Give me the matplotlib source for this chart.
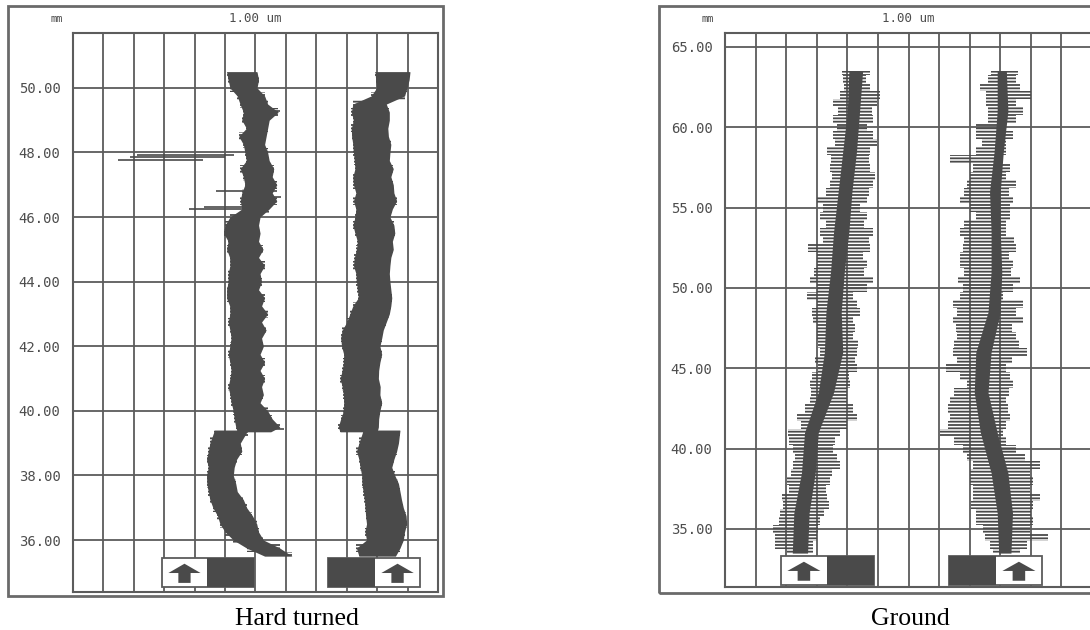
import numpy as np
import matplotlib.pyplot as plt
from matplotlib.patches import Rectangle, Polygon
from matplotlib import transforms

plt.rcParams['hatch.color'] = '#4a4a4a'
plt.rcParams['hatch.linewidth'] = 1.3

# ---------------- Hard turned (left) : position along profile (mm), trace extent (um)
# upper section of the profile (50.5 mm down to the step near 39.35 mm)
ht_pos_up = [50.50, 50.25, 50.00, 49.75, 49.50, 49.25, 49.00, 48.75, 48.50, 48.25,
             48.00, 47.75, 47.50, 47.25, 47.00, 46.75, 46.50, 46.25, 46.00, 45.75,
             45.50, 45.25, 45.00, 44.75, 44.50, 44.25, 44.00, 43.75, 43.50, 43.25,
             43.00, 42.75, 42.50, 42.25, 42.00, 41.75, 41.50, 41.25, 41.00, 40.75,
             40.50, 40.25, 40.00, 39.75, 39.50, 39.35]
# lower section
ht_pos_dn = [39.40, 39.00, 38.75, 38.50, 38.25, 38.00, 37.75, 37.50, 37.25, 37.00,
             36.75, 36.50, 36.25, 36.00, 35.75, 35.50]

a_up_lo = [5.05, 5.10, 5.16, 5.40, 5.49, 5.60, 5.55, 5.70, 5.45, 5.60,
           5.65, 5.70, 5.50, 5.60, 5.65, 5.55, 5.50, 5.55, 5.16, 5.00,
           4.95, 5.10, 5.05, 5.15, 5.16, 5.10, 5.10, 5.05, 5.05, 5.15,
           5.16, 5.10, 5.16, 5.20, 5.16, 5.10, 5.16, 5.20, 5.16, 5.10,
           5.16, 5.20, 5.27, 5.30, 5.35, 5.40]
a_up_hi = [6.05, 6.10, 6.05, 6.30, 6.40, 6.75, 6.45, 6.40, 6.35, 6.30,
           6.40, 6.45, 6.60, 6.55, 6.70, 6.55, 6.70, 6.45, 6.15, 6.10,
           6.15, 6.10, 6.25, 6.10, 6.30, 6.15, 6.20, 6.10, 6.30, 6.20,
           6.40, 6.20, 6.35, 6.20, 6.26, 6.15, 6.30, 6.15, 6.30, 6.20,
           6.26, 6.15, 6.40, 6.55, 6.80, 6.50]
a_dn_lo = [4.65, 4.50, 4.45, 4.39, 4.45, 4.39, 4.40, 4.45, 4.50, 4.60,
           4.75, 4.83, 5.00, 5.27, 5.71, 6.30]
a_dn_hi = [5.75, 5.50, 5.55, 5.38, 5.30, 5.27, 5.35, 5.40, 5.60, 5.71,
           5.90, 6.04, 6.10, 6.26, 6.80, 7.20]

b_up_lo = [9.93, 9.95, 9.98, 9.80, 9.20, 9.15, 9.22, 9.15, 9.16, 9.20,
           9.22, 9.25, 9.27, 9.20, 9.22, 9.30, 9.22, 9.30, 9.27, 9.20,
           9.27, 9.35, 9.32, 9.25, 9.22, 9.30, 9.32, 9.35, 9.38, 9.20,
           9.10, 9.00, 8.85, 8.80, 8.83, 8.90, 8.89, 8.85, 8.78, 8.85,
           8.89, 8.90, 8.89, 8.80, 8.72, 8.78]
b_up_hi = [11.08, 11.05, 10.98, 10.90, 10.30, 10.40, 10.40, 10.35, 10.37, 10.45,
           10.42, 10.40, 10.53, 10.45, 10.53, 10.55, 10.64, 10.50, 10.42, 10.55,
           10.58, 10.50, 10.53, 10.45, 10.42, 10.40, 10.42, 10.45, 10.48, 10.45,
           10.40, 10.30, 10.20, 10.15, 10.09, 10.15, 10.09, 10.05, 10.04, 10.10,
           10.09, 10.15, 10.09, 10.05, 10.04, 10.00]
b_dn_lo = [9.54, 9.40, 9.32, 9.40, 9.44, 9.49, 9.50, 9.54, 9.58, 9.60,
           9.62, 9.65, 9.60, 9.65, 9.32, 9.40]
b_dn_hi = [10.75, 10.70, 10.64, 10.55, 10.48, 10.58, 10.70, 10.75, 10.80, 10.86,
           10.95, 10.97, 10.90, 10.86, 10.75, 10.60]

# isolated long spikes of the hard turned trace
a_spk_y = [47.92, 47.85, 47.78, 46.82, 46.30, 46.24, 49.30, 46.62, 39.45]
a_spk_lo = [2.10, 1.87, 1.48, 4.70, 4.30, 3.82, 6.00, 6.20, 6.20]
a_spk_hi = [5.30, 5.00, 4.28, 6.70, 6.00, 6.00, 6.80, 6.85, 6.95]

# ---------------- Ground (right)
gr_pos = [63.5, 63.0, 62.5, 62.0, 61.5, 61.0, 60.5, 60.0, 59.5, 59.0,
          58.5, 58.0, 57.5, 57.0, 56.5, 56.0, 55.5, 55.0, 54.5, 54.0,
          53.5, 53.0, 52.5, 52.0, 51.5, 51.0, 50.5, 50.0, 49.5, 49.0,
          48.5, 48.0, 47.5, 47.0, 46.5, 46.0, 45.5, 45.0, 44.5, 44.0,
          43.5, 43.0, 42.5, 42.0, 41.5, 41.0, 40.5, 40.0, 39.5, 39.0,
          38.5, 38.0, 37.5, 37.0, 36.5, 36.0, 35.5, 35.0, 34.5, 34.0,
          33.5]
c_lo = [3.81, 3.85, 3.90, 3.75, 3.54, 3.70, 3.54, 3.65, 3.54, 3.60,
        3.32, 3.45, 3.43, 3.50, 3.43, 3.30, 3.00, 3.21, 3.10, 3.30,
        3.10, 3.20, 2.72, 3.00, 3.00, 2.90, 2.78, 3.00, 2.67, 3.00,
        2.85, 2.89, 3.00, 3.00, 3.05, 3.10, 2.95, 3.05, 2.85, 2.78,
        2.80, 2.78, 2.60, 2.34, 2.50, 2.07, 2.10, 2.23, 2.30, 2.23,
        2.15, 2.02, 2.10, 1.85, 1.90, 1.80, 1.75, 1.58, 1.65, 1.63,
        2.02]
c_hi = [4.74, 4.60, 4.74, 5.07, 4.96, 4.80, 4.85, 4.63, 4.85, 4.96,
        4.74, 4.70, 4.74, 4.90, 4.85, 4.70, 4.63, 4.41, 4.63, 4.55,
        4.85, 4.70, 4.74, 4.50, 4.63, 4.55, 4.85, 4.63, 4.19, 4.30,
        4.40, 4.19, 4.25, 4.19, 4.35, 4.30, 4.25, 4.30, 4.05, 4.08,
        4.00, 3.98, 4.20, 4.30, 4.00, 3.76, 3.60, 3.54, 3.65, 3.76,
        3.50, 3.43, 3.30, 3.32, 3.40, 3.25, 3.10, 3.05, 3.00, 2.89,
        2.89]
d_lo = [8.71, 8.60, 8.33, 8.55, 8.55, 8.60, 8.61, 8.22, 8.22, 8.40,
        8.22, 7.35, 8.12, 8.00, 7.90, 7.80, 7.68, 8.01, 8.22, 7.80,
        7.68, 7.80, 7.79, 7.70, 7.68, 7.80, 7.63, 7.79, 7.68, 7.46,
        7.60, 7.46, 7.55, 7.57, 7.50, 7.46, 7.60, 7.24, 7.70, 7.90,
        7.50, 7.35, 7.30, 7.35, 7.30, 7.03, 7.50, 7.79, 7.90, 8.12,
        8.00, 8.01, 8.10, 8.12, 8.05, 8.22, 8.20, 8.44, 8.50, 8.66,
        8.77]
d_hi = [9.59, 9.50, 9.64, 10.02, 9.53, 9.75, 9.53, 9.15, 9.42, 9.20,
        9.20, 9.10, 9.31, 9.20, 9.53, 9.30, 9.42, 9.31, 9.31, 9.20,
        9.20, 9.45, 9.53, 9.30, 9.42, 9.35, 9.64, 9.42, 9.10, 9.75,
        9.50, 9.75, 9.40, 9.53, 9.60, 9.86, 9.40, 9.20, 9.31, 9.42,
        9.30, 9.20, 9.25, 9.31, 9.20, 9.10, 9.20, 9.53, 9.80, 10.29,
        9.97, 10.08, 9.97, 10.29, 10.08, 10.00, 10.08, 9.97, 10.57, 9.86,
        9.64]
# dense centre of the ground traces
core_pos = [63.5, 61.0, 58.5, 56.0, 53.5, 51.0, 48.5, 46.0, 43.5, 41.0, 38.5, 36.0, 33.5]
c_core_lo = [4.05, 4.00, 3.85, 3.70, 3.55, 3.45, 3.30, 3.25, 3.05, 2.60, 2.50, 2.25, 2.20]
c_core_hi = [4.50, 4.40, 4.30, 4.15, 4.05, 3.90, 3.80, 3.85, 3.55, 3.05, 2.95, 2.75, 2.70]
d_core_lo = [8.90, 8.90, 8.80, 8.65, 8.70, 8.70, 8.60, 8.20, 8.15, 8.35, 8.70, 8.90, 8.95]
d_core_hi = [9.20, 9.25, 9.10, 9.00, 9.00, 9.05, 9.00, 8.70, 8.60, 8.90, 9.25, 9.40, 9.35]

ht_ticks = [36, 38, 40, 42, 44, 46, 48, 50]
gr_ticks = [35, 40, 45, 50, 55, 60, 65]

INK = '#4a4a4a'
GRID = '#5c5c5c'
LABEL = '#4d4d4d'

fig = plt.figure(figsize=(10.9, 6.3), dpi=100)
W, H = 1090.0, 630.0


def px_axes(x0, y0, x1, y1):
    # pixel box (top-left origin) -> axes
    return fig.add_axes([x0 / W, (H - y1) / H, (x1 - x0) / W, (y1 - y0) / H])


def setup(ax, ylim, ticks):
    ax.set_xlim(0, 12)
    ax.set_ylim(*ylim)
    ax.set_xticks(range(13))
    ax.set_xticklabels([])
    ax.set_yticks(ticks)
    ax.set_yticklabels(['%.2f' % t for t in ticks], family='DejaVu Sans Mono',
                       fontsize=10, color=LABEL)
    ax.tick_params(length=0, pad=9)
    ax.grid(True, color=GRID, lw=1.3)
    ax.set_axisbelow(True)
    for s in ax.spines.values():
        s.set_color(GRID)
        s.set_linewidth(1.5)


def trace(ax, pos, lo, hi, solid=True):
    # solid body joined point to point, horizontal strokes out to the read extent
    if solid:
        ax.fill_betweenx(pos, lo, hi, color=INK, lw=0, zorder=3)
    ax.fill_betweenx(pos, lo, hi, step='mid', facecolor='none', edgecolor=INK,
                     hatch='-----', lw=0, zorder=3)


def dir_box(ax, x0, x1, xs, yb, yt, dark_left):
    tr = transforms.blended_transform_factory(ax.transData, ax.transAxes)
    ax.add_patch(Rectangle((x0, yb), x1 - x0, yt - yb, transform=tr, facecolor='white',
                           edgecolor=GRID, lw=1.3, zorder=4))
    if dark_left:
        dx0, dx1, wx0, wx1 = x0, xs, xs, x1
    else:
        dx0, dx1, wx0, wx1 = xs, x1, x0, xs
    ax.add_patch(Rectangle((dx0, yb), dx1 - dx0, yt - yb, transform=tr, facecolor=INK,
                           edgecolor='none', zorder=5))
    cx = (wx0 + wx1) / 2
    hw = (wx1 - wx0) * 0.36
    sw = hw * 0.38
    h = yt - yb
    tip, base, foot = yt - 0.2 * h, yt - 0.52 * h, yt - 0.86 * h
    ax.add_patch(Polygon([(cx - hw, base), (cx, tip), (cx + hw, base), (cx + sw, base),
                          (cx + sw, foot), (cx - sw, foot), (cx - sw, base)],
                         closed=True, transform=tr, facecolor=INK, edgecolor='none', zorder=6))


def frame(x0, y0, x1, y1):
    fig.add_artist(Rectangle((x0 / W, (H - y1) / H), (x1 - x0) / W, (y1 - y0) / H,
                             transform=fig.transFigure, fill=False, edgecolor='#6a6a6a', lw=2))


def ftext(x, y, s, **kw):
    fig.text(x / W, (H - y) / H, s, **kw)


# ---------------- left panel
ax1 = px_axes(73, 33, 438, 592)
setup(ax1, (34.39, 51.70), ht_ticks)
trace(ax1, ht_pos_up, a_up_lo, a_up_hi)
trace(ax1, ht_pos_dn, a_dn_lo, a_dn_hi)
trace(ax1, ht_pos_up, b_up_lo, b_up_hi)
trace(ax1, ht_pos_dn, b_dn_lo, b_dn_hi)
ax1.hlines(a_spk_y, a_spk_lo, a_spk_hi, color=INK, lw=1.2, zorder=3)
dir_box(ax1, 2.93, 5.95, 4.40, 0.009, 0.061, dark_left=False)
dir_box(ax1, 8.38, 11.41, 9.93, 0.009, 0.061, dark_left=True)
frame(8, 6, 443, 596)
ftext(57, 19, 'mm', ha='center', va='center', family='DejaVu Sans Mono', fontsize=7.5, color=LABEL)
ftext(255.5, 19, '1.00 um', ha='center', va='center', family='DejaVu Sans Mono', fontsize=9, color=LABEL)
ftext(297, 625, 'Hard turned', ha='center', va='baseline', family='Liberation Serif', fontsize=18.5)

# ---------------- right panel
ax2 = px_axes(725, 33, 1092, 587)
setup(ax2, (31.39, 65.87), gr_ticks)
trace(ax2, gr_pos, c_lo, c_hi, solid=False)
trace(ax2, gr_pos, d_lo, d_hi, solid=False)
ax2.fill_betweenx(core_pos, c_core_lo, c_core_hi, color=INK, lw=0, zorder=3)
ax2.fill_betweenx(core_pos, d_core_lo, d_core_hi, color=INK, lw=0, zorder=3)
dir_box(ax2, 1.83, 4.87, 3.33, 0.004, 0.056, dark_left=False)
dir_box(ax2, 7.32, 10.36, 8.86, 0.004, 0.056, dark_left=True)
frame(659, 6, 1120, 593)
ftext(708, 19, 'mm', ha='center', va='center', family='DejaVu Sans Mono', fontsize=7.5, color=LABEL)
ftext(908.5, 19, '1.00 um', ha='center', va='center', family='DejaVu Sans Mono', fontsize=9, color=LABEL)
ftext(910, 625, 'Ground', ha='center', va='baseline', family='Liberation Serif', fontsize=18.5)

fig.savefig('out.png', dpi=100)
